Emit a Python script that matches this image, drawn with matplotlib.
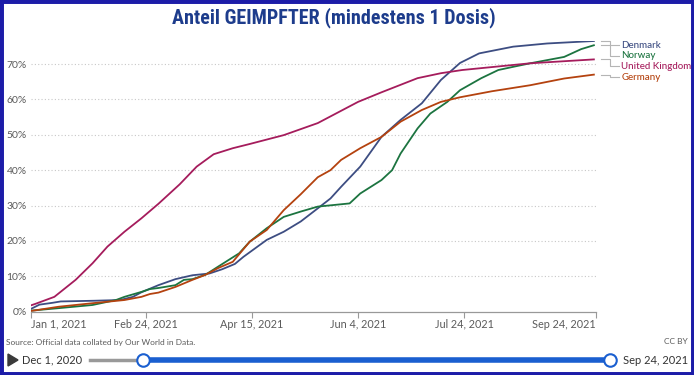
import pandas as pd
import matplotlib
matplotlib.use("Agg")
from matplotlib import pyplot as plt
from matplotlib import transforms
from matplotlib.lines import Line2D
from matplotlib.patches import Rectangle, Polygon

TITLE = "Anteil GEIMPFTER (mindestens 1 Dosis)"

uk_dates = ["2021-01-01", "2021-01-03", "2021-01-12", "2021-01-22", "2021-01-30", "2021-02-06",
            "2021-02-14", "2021-02-22", "2021-03-02", "2021-03-12", "2021-03-20", "2021-03-28",
            "2021-04-06", "2021-04-14", "2021-04-30", "2021-05-16", "2021-06-04", "2021-06-15",
            "2021-07-02", "2021-07-13", "2021-07-23", "2021-08-24", "2021-09-23"]
uk_vals = [1.8, 2.2, 4.2, 9.0, 13.7, 18.4, 22.6, 26.4, 30.5, 36.0, 41.0, 44.5,
           46.2, 47.4, 49.9, 53.3, 59.3, 62.0, 66.0, 67.4, 68.3, 70.2, 71.3]

dk_dates = ["2021-01-01", "2021-01-05", "2021-01-11", "2021-01-15", "2021-01-31", "2021-02-12",
            "2021-02-18", "2021-02-22", "2021-03-02", "2021-03-10", "2021-03-18", "2021-03-26",
            "2021-04-01", "2021-04-07", "2021-04-11", "2021-04-22", "2021-04-30", "2021-05-08",
            "2021-05-16", "2021-05-22", "2021-05-27", "2021-06-05", "2021-06-15", "2021-06-24",
            "2021-07-04", "2021-07-13", "2021-07-22", "2021-07-31", "2021-08-16", "2021-09-01",
            "2021-09-23"]
dk_vals = [0.8, 2.0, 2.5, 2.9, 3.1, 3.3, 4.2, 5.5, 7.5, 9.2, 10.3, 10.8,
           12.0, 13.5, 15.5, 20.3, 22.6, 25.5, 29.2, 32.0, 35.3, 41.0, 49.4, 54.2,
           58.9, 65.5, 70.3, 73.0, 74.9, 75.8, 76.5]

no_dates = ["2021-01-01", "2021-01-14", "2021-01-30", "2021-02-10", "2021-02-14", "2021-02-22",
            "2021-02-26", "2021-03-02", "2021-03-10", "2021-03-14", "2021-03-18", "2021-03-24",
            "2021-03-30", "2021-04-09", "2021-04-14", "2021-04-22", "2021-04-30", "2021-05-08",
            "2021-05-16", "2021-05-31", "2021-06-05", "2021-06-15", "2021-06-20", "2021-06-24",
            "2021-07-02", "2021-07-08", "2021-07-16", "2021-07-22", "2021-08-01", "2021-08-09",
            "2021-08-16", "2021-08-24", "2021-09-01", "2021-09-09", "2021-09-17", "2021-09-23"]
no_vals = [0.3, 1.0, 1.9, 3.3, 4.2, 5.6, 6.4, 6.7, 7.5, 9.0, 9.2, 10.4,
           12.7, 16.5, 19.8, 23.6, 26.8, 28.3, 29.7, 30.6, 33.4, 37.2, 40.0, 44.7,
           51.8, 56.0, 59.3, 62.6, 66.0, 68.3, 69.2, 70.2, 71.1, 72.0, 74.2, 75.3]

de_dates = ["2021-01-01", "2021-01-14", "2021-01-30", "2021-02-14", "2021-02-22", "2021-02-26",
            "2021-03-02", "2021-03-10", "2021-03-14", "2021-03-18", "2021-03-24", "2021-03-30",
            "2021-04-06", "2021-04-14", "2021-04-22", "2021-04-30", "2021-05-08", "2021-05-16",
            "2021-05-22", "2021-05-27", "2021-06-05", "2021-06-15", "2021-06-24", "2021-07-04",
            "2021-07-13", "2021-07-22", "2021-08-06", "2021-08-24", "2021-09-09", "2021-09-23"]
de_vals = [0.2, 1.4, 2.4, 3.3, 4.2, 5.0, 5.4, 7.0, 8.0, 9.0, 10.4, 12.3,
           14.1, 19.8, 23.1, 28.7, 33.2, 38.0, 40.0, 42.9, 46.2, 49.4, 53.7, 57.0,
           59.3, 60.6, 62.3, 64.0, 65.9, 67.0]

countries = ["Denmark", "Norway", "United Kingdom", "Germany"]
colors = {"Denmark": "#3d4d82", "Norway": "#1c7440", "United Kingdom": "#a51c5c", "Germany": "#b4420f"}
series = {"Denmark": (dk_dates, dk_vals), "Norway": (no_dates, no_vals),
          "United Kingdom": (uk_dates, uk_vals), "Germany": (de_dates, de_vals)}
# where the end labels sit (percent), spread out so they don't overlap
label_y = {"Denmark": 75.3, "Norway": 72.3, "United Kingdom": 69.4, "Germany": 66.2}

tick_dates = ["2021-01-01", "2021-02-24", "2021-04-15", "2021-06-04", "2021-07-24", "2021-09-24"]
tick_labels = ["Jan 1, 2021", "Feb 24, 2021", "Apr 15, 2021", "Jun 4, 2021", "Jul 24, 2021", "Sep 24, 2021"]
y_ticks = [0, 10, 20, 30, 40, 50, 60, 70]

plt.rcParams['font.family'] = ['Lato', 'DejaVu Sans']
GREY = "#5b5b5b"

fig = plt.figure(figsize=(6.94, 3.75), dpi=100)
fig.patch.set_facecolor("white")
ax = fig.add_axes([31/694, 1 - 311.7/375, 565/694, (311.7 - 41)/375])

for c in countries:
    d, v = series[c]
    ax.plot(pd.to_datetime(d), v, color=colors[c], lw=1.3, solid_joinstyle="round")

ax.set_xlim(pd.Timestamp("2021-01-01"), pd.Timestamp("2021-09-24"))
ax.set_ylim(0, 76.5)

for s in ["top", "right", "left"]:
    ax.spines[s].set_visible(False)
ax.spines["bottom"].set_color("#999999")
ax.spines["bottom"].set_linewidth(0.9)

ax.set_yticks(y_ticks)
ax.set_yticklabels([f"{t}%" for t in y_ticks])
ax.tick_params(axis="y", length=0, pad=3, labelsize=7.5, labelcolor=GREY)
for t in y_ticks[1:]:
    ax.axhline(t, color="#c8c8c8", lw=0.8, ls=(0, (1, 2)), zorder=0)

ax.set_xticks(pd.to_datetime(tick_dates))
ax.set_xticklabels(tick_labels)
ax.tick_params(axis="x", length=4, width=0.8, color="#999999", pad=1, labelsize=7.8, labelcolor=GREY)
xl = ax.get_xticklabels()
xl[0].set_ha("left")
xl[-1].set_ha("right")

# end labels with elbow connectors
tr = transforms.blended_transform_factory(ax.transAxes, ax.transData)
for c in countries:
    end = series[c][1][-1]
    ly = label_y[c]
    ax.add_line(Line2D([1.008, 1.025, 1.025, 1.04], [end, end, ly, ly], transform=tr,
                       color="#b5b5b5", lw=0.8, clip_on=False))
    ax.text(1.045, ly, c, transform=tr, color=colors[c], fontsize=7, va="center", ha="left",
            fontweight="medium")

fig.text(0.481, 0.952, TITLE, ha="center", va="center", fontsize=14.5, fontweight="bold",
         color="#1d3c8c", family=["Roboto Condensed", "Liberation Sans Narrow", "Roboto", "DejaVu Sans"])

fig.text(6/694, 1 - 342/375, "Source: Official data collated by Our World in Data.",
         fontsize=6, color=GREY, va="center", ha="left")
fig.text(688/694, 1 - 342/375, "CC BY", fontsize=6, color=GREY, va="center", ha="right")

# timeline slider
sy = 1 - 360/375
fig.add_artist(Polygon([[8/694, sy + 6/375], [8/694, sy - 6/375], [18/694, sy]], closed=True,
                       transform=fig.transFigure, color="#3a3a3a"))
fig.text(22/694, sy, "Dec 1, 2020", fontsize=8, color="#333333", va="center", ha="left")
fig.text(623/694, sy, "Sep 24, 2021", fontsize=8, color="#333333", va="center", ha="left")
fig.add_artist(Line2D([90/694, 143/694], [sy, sy], transform=fig.transFigure, color="#999999", lw=2.5))
fig.add_artist(Line2D([143/694, 610/694], [sy, sy], transform=fig.transFigure, color="#1a5fd0", lw=4))
for hx in [143, 610]:
    fig.add_artist(Line2D([hx/694], [sy], transform=fig.transFigure, marker="o", ms=9,
                          mfc="white", mec="#1a5fd0", mew=1.5))

# blue frame
fig.add_artist(Rectangle((0, 0), 1, 1, transform=fig.transFigure, fill=False,
                         edgecolor="#1c1ca8", lw=5))

fig.savefig("out.png", dpi=100)
